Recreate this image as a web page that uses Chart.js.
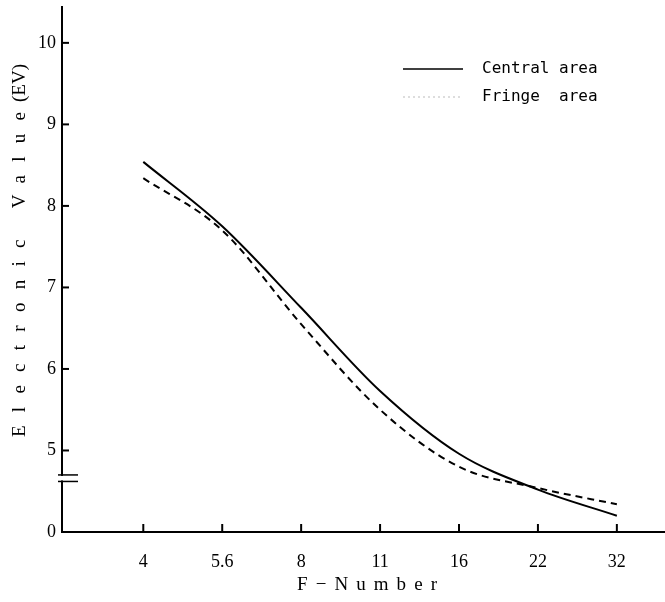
<!DOCTYPE html>
<html lang="en">
<head>
    <meta charset="UTF-8">
    <title>Electronic Value vs F-Number</title>
    <script src="https://cdn.jsdelivr.net/npm/chart.js@4.4.1/dist/chart.umd.min.js"></script>
    <style>
        body { margin: 0; background: #fff; }
        #wrap { width: 665px; height: 602px; }
    </style>
</head>
<body>
    <div id="wrap"><canvas id="evChart" width="665" height="602"></canvas></div>

    <script>
        // F-number stops, evenly spaced on the x axis
        const fNumbers = ['4', '5.6', '8', '11', '16', '22', '32'];

        // EV readings (axis is broken below 5; the value 4 sits at the "0" corner)
        const centralEV = [8.54, 7.75, 6.75, 5.73, 4.96, 4.52, 4.20];
        const fringeEV  = [8.34, 7.70, 6.55, 5.50, 4.80, 4.54, 4.34];

        const yTicks = [4, 5, 6, 7, 8, 9, 10];
        const yTickLabels = ['0', '5', '6', '7', '8', '9', '10'];
        const breakMarks = [4.70, 4.62];

        const serif = '"Liberation Serif", "Times New Roman", serif';

        // inward tick marks, axis break, legend and spaced axis titles
        const decor = {
            id: 'decor',
            afterDraw(chart) {
                const ctx = chart.ctx;
                const xs = chart.scales.x, ys = chart.scales.y;
                const area = chart.chartArea;
                ctx.save();
                ctx.strokeStyle = '#000';
                ctx.lineWidth = 2;

                // ticks pointing into the plot
                fNumbers.forEach((_, i) => {
                    const px = xs.getPixelForValue(i);
                    ctx.beginPath();
                    ctx.moveTo(px, area.bottom);
                    ctx.lineTo(px, area.bottom - 8);
                    ctx.stroke();
                });
                yTicks.slice(1).forEach(v => {
                    const py = ys.getPixelForValue(v);
                    ctx.beginPath();
                    ctx.moveTo(area.left, py);
                    ctx.lineTo(area.left + 7, py);
                    ctx.stroke();
                });

                // axis break
                const b1 = ys.getPixelForValue(breakMarks[0]);
                const b2 = ys.getPixelForValue(breakMarks[1]);
                ctx.fillStyle = '#fff';
                ctx.fillRect(area.left - 3, b1 + 1, 6, b2 - b1 - 2);
                ctx.lineWidth = 1.5;
                [b1, b2].forEach(py => {
                    ctx.beginPath();
                    ctx.moveTo(area.left - 4, py);
                    ctx.lineTo(area.left + 16, py);
                    ctx.stroke();
                });

                // legend
                ctx.font = '16px "DejaVu Sans Mono", monospace';
                ctx.textBaseline = 'middle';
                ctx.fillStyle = '#000';
                const rows = [
                    { y: 69, color: '#000', dash: [], width: 1.5, text: chart.data.datasets[0].label },
                    { y: 97, color: '#bbb', dash: [2, 3], width: 1, text: chart.data.datasets[1].label }
                ];
                rows.forEach(r => {
                    ctx.strokeStyle = r.color;
                    ctx.lineWidth = r.width;
                    ctx.setLineDash(r.dash);
                    ctx.beginPath();
                    ctx.moveTo(403, r.y);
                    ctx.lineTo(463, r.y);
                    ctx.stroke();
                    ctx.setLineDash([]);
                    ctx.fillText(r.text, 482, r.y);
                });

                // x title
                ctx.font = '19px ' + serif;
                ctx.textBaseline = 'middle';
                ctx.textAlign = 'left';
                drawSpaced(ctx, 'F\u2212Number', 297, 585, 140);

                // y title, rotated
                ctx.translate(20, 437);
                ctx.rotate(-Math.PI / 2);
                drawSpaced(ctx, 'Electronic Value', 0, 0, 325);
                drawSpaced(ctx, '(EV)', 335, 0, 36);
                ctx.restore();
            }
        };

        // draw text stretched to a given width with letter spacing
        function drawSpaced(ctx, text, x, y, width) {
            ctx.letterSpacing = '0px';
            const w = ctx.measureText(text).width;
            const gap = Math.max(0, (width - w) / (text.length - 1));
            ctx.letterSpacing = gap + 'px';
            ctx.fillText(text, x, y);
            ctx.letterSpacing = '0px';
        }

        new Chart(document.getElementById('evChart'), {
            type: 'line',
            data: {
                datasets: [
                    {
                        label: 'Central area',
                        data: centralEV.map((v, i) => ({ x: i, y: v })),
                        borderColor: '#000',
                        borderWidth: 2,
                        pointRadius: 0,
                        cubicInterpolationMode: 'monotone'
                    },
                    {
                        label: 'Fringe  area',
                        data: fringeEV.map((v, i) => ({ x: i, y: v })),
                        borderColor: '#000',
                        borderWidth: 2,
                        borderDash: [7, 5],
                        pointRadius: 0,
                        cubicInterpolationMode: 'monotone'
                    }
                ]
            },
            options: {
                responsive: false,
                animation: false,
                layout: { padding: { top: 7, left: 0, right: 0, bottom: 0 } },
                plugins: { legend: { display: false }, tooltip: { enabled: false } },
                scales: {
                    x: {
                        type: 'linear',
                        min: -1.03,
                        max: 6.61,
                        afterFit(scale) {
                            scale.height = 70;
                            scale.paddingLeft = 0;
                            scale.paddingRight = 0;
                        },
                        afterBuildTicks(scale) {
                            scale.ticks = fNumbers.map((_, i) => ({ value: i }));
                        },
                        grid: { display: false, drawTicks: false },
                        border: { display: true, color: '#000', width: 2 },
                        ticks: {
                            padding: 19,
                            color: '#000',
                            font: { family: serif, size: 18 },
                            callback: v => fNumbers[v]
                        }
                    },
                    y: {
                        min: 4,
                        max: 10.44,
                        afterFit(scale) {
                            scale.width = 62;
                            scale.paddingTop = 0;
                            scale.paddingBottom = 0;
                        },
                        afterBuildTicks(scale) {
                            scale.ticks = yTicks.map(v => ({ value: v }));
                        },
                        grid: { display: false, drawTicks: false },
                        border: { display: true, color: '#000', width: 2 },
                        ticks: {
                            padding: 6,
                            color: '#000',
                            font: { family: serif, size: 18 },
                            callback: v => yTickLabels[yTicks.indexOf(v)]
                        }
                    }
                }
            },
            plugins: [decor]
        });
    </script>
</body>
</html>
